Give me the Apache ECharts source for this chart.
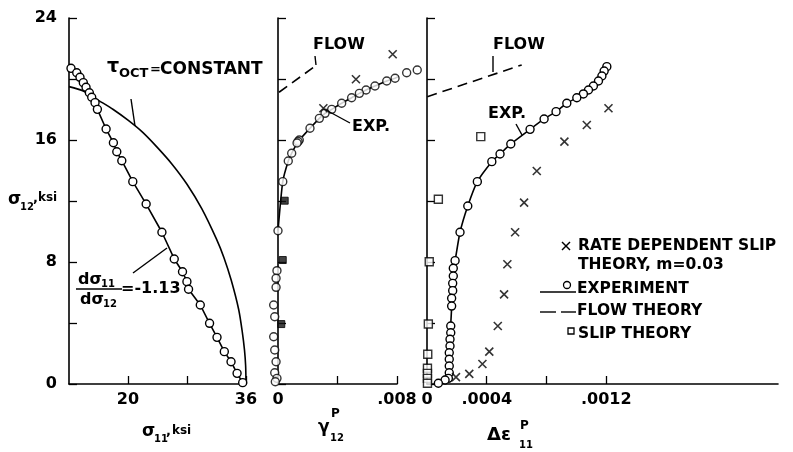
<!DOCTYPE html>
<html><head><meta charset="utf-8">
<script src="https://cdn.jsdelivr.net/npm/echarts@6/dist/echarts.min.js"></script>
<style>html,body{margin:0;padding:0;background:#fff}#c{width:793px;height:452px}</style>
</head><body><div id="c"></div><script>
// ---------- Panel 1: sigma11 vs sigma12 ----------
const p1ExpS11 = [12.27,13.05,13.49,13.94,14.31,14.76,15.08,15.53,15.85,17.03,18.02,18.48,19.16,20.65,22.46,24.60,26.27,27.39,27.99,28.21,29.80,31.06,32.07,33.06,33.97,34.79,35.55];
const p1ExpS12 = [20.70,20.41,20.11,19.76,19.46,19.10,18.80,18.45,18.01,16.72,15.82,15.23,14.64,13.27,11.80,9.95,8.20,7.36,6.71,6.21,5.18,3.98,3.06,2.12,1.46,0.70,0.09];
const p1OctS11 = [12,14,16,18,20,22,24,26,28,30,32,33,34,35,35.5,35.8,35.95,36];
const p1OctS12 = [19.5,19.2,18.6,18.0,17.3,16.5,15.5,14.4,13.1,11.5,9.5,8.3,6.8,4.9,3.4,2.2,1.2,0];
// ---------- Panel 2: gamma12^P vs sigma12 ----------
const p2ExpX = [0.00936,0.00865,0.00787,0.00731,0.00652,0.00592,0.00547,0.00495,0.00428,0.00361,0.00316,0.00278,0.00215,0.00143,0.00135,0.00128,0.00092,0.00069,0.00032,0.00000,-0.00007,-0.00013,-0.00013,-0.00029,-0.00022,-0.00029,-0.00022,-0.00013,-0.00022,-0.00007,-0.00018];
const p2ExpY = [20.59,20.41,20.05,19.87,19.54,19.28,19.06,18.77,18.41,18.01,17.75,17.42,16.77,16.00,15.90,15.80,15.13,14.62,13.27,10.05,7.43,6.93,6.34,5.18,4.41,3.10,2.23,1.46,0.74,0.37,0.15];
const p2LineCount = 20; // experiment curve drawn through the upper circles
const p2RateX = [0.00771,0.00524,0.00305];
const p2RateY = [21.62,19.98,18.08];
const p2SlipX = [0.00045,0.00032,0.00022];
const p2SlipY = [12.02,8.13,3.93];
const p2FlowX = [0.00007,0.00259];
const p2FlowY = [19.13,20.91];
// ---------- Panel 3: delta eps11^P vs sigma12 ----------
const p3ExpX = [0.001204,0.001186,0.001171,0.001148,0.001114,0.001081,0.001047,0.001003,0.000936,0.000864,0.000784,0.000690,0.000561,0.000489,0.000434,0.000337,0.000273,0.000221,0.000188,0.000176,0.000176,0.000172,0.000172,0.000165,0.000165,0.000159,0.000159,0.000154,0.000154,0.000149,0.000149,0.000149,0.000149,0.000143,0.000121,0.000076];
const p3ExpY = [20.81,20.52,20.20,19.87,19.54,19.28,19.02,18.77,18.41,17.86,17.38,16.70,15.74,15.08,14.58,13.27,11.67,9.95,8.09,7.59,7.08,6.60,6.12,5.62,5.11,3.80,3.36,2.93,2.49,2.05,1.62,1.18,0.74,0.37,0.26,0.05];
const p3RateX = [0.001215,0.001070,0.000920,0.000735,0.000650,0.000590,0.000538,0.000516,0.000474,0.000417,0.000371,0.000283,0.000194];
const p3RateY = [18.08,16.98,15.89,13.97,11.89,9.95,7.85,5.88,3.80,2.12,1.31,0.66,0.45];
const p3SlipX = [0.000360,0.000076,0.000015,0.000009,0.000005,0.000003,0.000003,0.000003,0.000003];
const p3SlipY = [16.22,12.11,8.02,3.93,1.95,1.03,0.70,0.37,0.05];
const p3FlowX = [0.000002,0.000634];
const p3FlowY = [18.84,20.92];
// ---------- Ticks / labels ----------
const yTickLabels = [0,8,16,24];
const x1Ticks = [20,28,36], x1Labels = [20,36];
const x2Ticks = [0.004,0.008], x2Labels = [0,0.008];
const x3Ticks = [0.0004,0.0008,0.0012], x3Labels = [0,0.0004,0.0012];
const x2LabelText = {0:'0', 0.008:'.008'};
const x3LabelText = {0:'0', 0.0004:'.0004', 0.0012:'.0012'};

const zip = (a,b) => a.map((v,i)=>[v,b[i]]);
const FONT = 'DejaVu Sans';
const BLK = '#000';
const axisLineStyle = {color:BLK, width:1.6};

const chart = echarts.init(document.getElementById('c'), null, {renderer:'canvas'});

const grids = [
  {left:69, top:18, width:177, height:366},
  {left:278, top:18, width:119, height:366},
  {left:427, top:18, width:351, height:366}
].map(g => Object.assign({outerBoundsMode:'none', containLabel:false}, g));

function yAx(i, labels){
  return {gridIndex:i, type:'value', min:0, max:24, interval:4,
    axisLine:{show:true, onZero:false, lineStyle:axisLineStyle},
    axisTick:{show:true, inside:true, length:8, lineStyle:{color:BLK,width:1.3}},
    axisLabel:{show:labels, customValues:yTickLabels, color:BLK, fontFamily:FONT, fontWeight:'bold', fontSize:16, margin:12},
    splitLine:{show:false}};
}
function xAx(i, min, max, ticks, labels, fmt){
  return {gridIndex:i, type:'value', min:min, max:max,
    axisLine:{show:true, onZero:false, lineStyle:axisLineStyle},
    axisTick:{show:true, inside:true, length:8, customValues:ticks, lineStyle:{color:BLK,width:1.3}},
    axisLabel:{show:true, customValues:labels, color:BLK, fontFamily:FONT, fontWeight:'bold', fontSize:16, margin:8, formatter:fmt},
    splitLine:{show:false}};
}

const circle = {symbol:'circle', symbolSize:8, itemStyle:{color:'#fff', borderColor:BLK, borderWidth:1.4}};
const crossPath = 'path://M0,0L10,10M10,0L0,10';
const cross = {symbol:crossPath, symbolSize:8, itemStyle:{color:'none', borderColor:BLK, borderWidth:1.6}};
const squareOpen = {symbol:'rect', symbolSize:8, itemStyle:{color:'#fff', borderColor:BLK, borderWidth:1.4}};
const squareFill = {symbol:'rect', symbolSize:7, itemStyle:{color:'#111', borderColor:BLK, borderWidth:1}};

const series = [
  // panel 1
  {type:'line', xAxisIndex:0, yAxisIndex:0, data:zip(p1OctS11,p1OctS12), smooth:0.3, showSymbol:false, lineStyle:{color:BLK,width:1.6}, clip:false, z:2},
  Object.assign({type:'line', xAxisIndex:0, yAxisIndex:0, data:zip(p1ExpS11,p1ExpS12), lineStyle:{color:BLK,width:1.6}, clip:false, z:3}, circle),
  // panel 2
  {type:'line', xAxisIndex:1, yAxisIndex:1, data:zip(p2ExpX,p2ExpY).slice(0,p2LineCount), smooth:0.2, showSymbol:false, lineStyle:{color:BLK,width:1.6}, clip:false, z:2},
  Object.assign({type:'scatter', xAxisIndex:1, yAxisIndex:1, data:zip(p2ExpX,p2ExpY), clip:false, z:3}, circle),
  Object.assign({type:'scatter', xAxisIndex:1, yAxisIndex:1, data:zip(p2RateX,p2RateY), clip:false, z:4}, cross),
  Object.assign({type:'scatter', xAxisIndex:1, yAxisIndex:1, data:zip(p2SlipX,p2SlipY), clip:false, z:4}, squareFill),
  {type:'line', xAxisIndex:1, yAxisIndex:1, data:zip(p2FlowX,p2FlowY), showSymbol:false, lineStyle:{color:BLK,width:1.6,type:[10,6]}, clip:false},
  // panel 3
  Object.assign({type:'line', xAxisIndex:2, yAxisIndex:2, data:zip(p3ExpX,p3ExpY), smooth:0.2, lineStyle:{color:BLK,width:1.6}, clip:false, z:3}, circle),
  Object.assign({type:'scatter', xAxisIndex:2, yAxisIndex:2, data:zip(p3RateX,p3RateY), clip:false, z:4}, cross),
  Object.assign({type:'scatter', xAxisIndex:2, yAxisIndex:2, data:zip(p3SlipX,p3SlipY), clip:false, z:4}, squareOpen),
  {type:'line', xAxisIndex:2, yAxisIndex:2, data:zip(p3FlowX,p3FlowY), showSymbol:false, lineStyle:{color:BLK,width:1.6,type:[10,6]}, clip:false}
];

function txt(x, y, s, size, extra){
  return {type:'text', x:x, y:y, z:10, style:Object.assign({text:s, fill:BLK, font:'bold '+size+'px "'+FONT+'"', verticalAlign:'middle', align:'left'}, extra||{})};
}
function seg(x1,y1,x2,y2,dash){
  return {type:'line', z:10, shape:{x1:x1,y1:y1,x2:x2,y2:y2}, style:{stroke:BLK, lineWidth:1.4, lineDash:dash||null}};
}

const graphics = [
  // axis titles
  txt(8,200,'σ',17), txt(20,207,'12',10), txt(33,199,',',13), txt(38,198,'ksi',12),
  txt(142,432,'σ',17), txt(154,439,'11',10), txt(166,432,',',13), txt(172,431,'ksi',12),
  txt(318,428,'γ',17), txt(331,414,'P',12), txt(330,438,'12',10),
  txt(487,435,'Δε',18), txt(520,426,'P',12), txt(519,445,'11',10),
  // tau oct annotation
  txt(107,67,'τ',19), txt(119,74,'OCT',13), txt(150,70,'=',13), txt(160,70,'CONSTANT',17),
  seg(131,99,135,126),
  // slope annotation
  txt(78,280,'dσ',16), txt(101,284,'11',10), txt(80,300,'dσ',16), txt(103,304,'12',10),
  seg(76,289,122,289), txt(121,289,'=-1.13',16),
  seg(133,273,167,248),
  // EXP labels
  txt(352,127,'EXP.',16), seg(350,123,326,110),
  txt(488,114,'EXP.',16), seg(516,124,522,135),
  // FLOW labels
  txt(313,45,'FLOW',16), seg(316,65,315,56),
  txt(493,45,'FLOW',16), seg(493,72,493,56),
  // legend
  seg(562,242,570,250), seg(570,242,562,250),
  txt(578,246,'RATE DEPENDENT SLIP',15.5),
  txt(578,265,'THEORY, m=0.03',15.5),
  seg(540,292,576,292), {type:'circle', z:10, shape:{cx:567,cy:285,r:3.5}, style:{fill:'#fff', stroke:BLK, lineWidth:1.3}},
  txt(577,289,'EXPERIMENT',15.5),
  seg(540,312,556,312), seg(561,312,576,312),
  txt(577,311,'FLOW THEORY',15.5),
  {type:'rect', z:10, shape:{x:568,y:328,width:6,height:6}, style:{fill:'#fff', stroke:BLK, lineWidth:1.3}},
  txt(578,334,'SLIP THEORY',15.5)
];

chart.setOption({
  animation:false,
  backgroundColor:'#fff',
  grid:grids,
  xAxis:[
    xAx(0,12,36,x1Ticks,x1Labels,v=>String(v)),
    xAx(1,0,0.008,x2Ticks,x2Labels,v=>x2LabelText[v]!==undefined?x2LabelText[v]:''),
    xAx(2,0,0.00235,x3Ticks,x3Labels,v=>{const k=Object.keys(x3LabelText).find(k=>Math.abs(+k-v)<1e-9);return k!==undefined?x3LabelText[k]:'';})
  ],
  yAxis:[yAx(0,true), yAx(1,false), yAx(2,false)],
  series:series,
  graphic:graphics
});
</script></body></html>
